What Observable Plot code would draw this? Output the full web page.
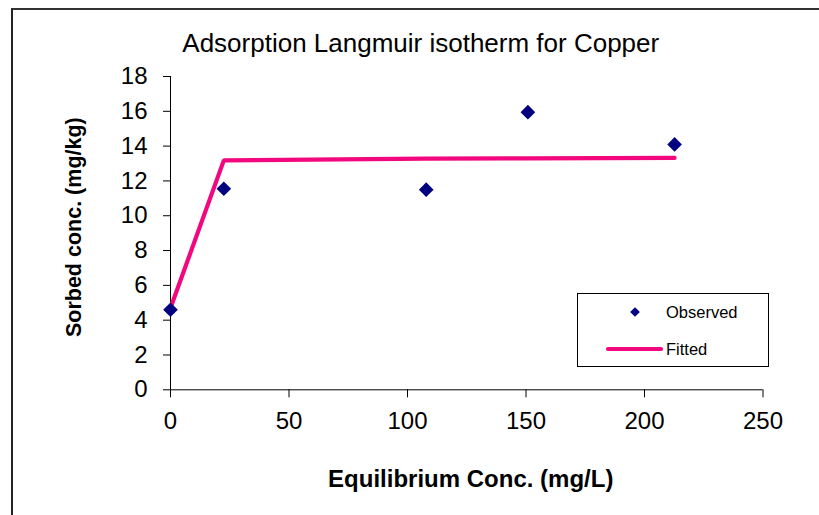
<!DOCTYPE html>
<html>
<head>
<meta charset="utf-8">
<script src="https://cdn.jsdelivr.net/npm/d3@7"></script>
<script src="https://cdn.jsdelivr.net/npm/@observablehq/plot@0.6"></script>
<style>
  html, body { margin: 0; padding: 0; background: #fff; }
  #wrap { position: relative; width: 819px; height: 515px; overflow: hidden; font-family: "Liberation Sans", Arial, sans-serif; }
  #border { position: absolute; left: 11px; top: 8px; width: 900px; height: 600px; border-left: 2px solid #222; border-top: 2px solid #333; box-sizing: border-box; }
  #chart { position: absolute; left: 0; top: 0; }
  #legend { position: absolute; left: 577px; top: 293px; width: 192px; height: 74px; border: 1px solid #000; box-sizing: border-box; background: #fff; }
</style>
</head>
<body>
<div id="wrap">
  <div id="border"></div>
  <div id="chart"></div>
  <div id="legend"></div>
</div>
<script>
// ---- data ----
const title = "Adsorption Langmuir isotherm for Copper";
const xLabel = "Equilibrium Conc. (mg/L)";
const yLabel = "Sorbed conc. (mg/kg)";
const seriesNames = ["Observed", "Fitted"];
const eqConc = [0, 22.5, 107.9, 150.8, 212.7];
const observed = [4.6, 11.55, 11.5, 15.95, 14.1];
const fitted = [4.7, 13.18, 13.28, 13.3, 13.32];
const xTicks = [0, 50, 100, 150, 200, 250];
const yTicks = [0, 2, 4, 6, 8, 10, 12, 14, 16, 18];

const obsColor = "#000080";
const fitColor = "#f2077f";

const obsData = eqConc.map((x, i) => ({x, y: observed[i]}));
const fitData = eqConc.map((x, i) => ({x, y: fitted[i]}));

const font = "'Liberation Sans', Arial, sans-serif";

const plot = Plot.plot({
  width: 819,
  height: 515,
  marginLeft: 170,
  marginRight: 56.5,
  marginTop: 76,
  marginBottom: 125.7,
  style: {fontFamily: font, color: "#000", background: "transparent", overflow: "visible"},
  x: {domain: [0, 250]},
  y: {domain: [0, 18]},
  marks: [
    Plot.axisX({ticks: xTicks, tickSize: 8, tickPadding: 14, fontSize: 24, label: null, stroke: "#000", strokeOpacity: 1, tickFormat: d => String(d)}),
    Plot.axisY({ticks: yTicks, tickSize: 7, tickPadding: 16, fontSize: 24, label: null, stroke: "#000", strokeOpacity: 1, tickFormat: d => String(d)}),
    Plot.ruleY([0], {stroke: "#000", strokeWidth: 1}),
    Plot.ruleX([0], {stroke: "#000", strokeWidth: 1}),
    Plot.line(fitData, {x: "x", y: "y", stroke: fitColor, strokeWidth: 4.2, strokeLinecap: "round", strokeLinejoin: "miter"}),
    Plot.dot(obsData, {x: "x", y: "y", symbol: "diamond2", r: 6.6, fill: obsColor, stroke: null}),
    Plot.text([title], {frameAnchor: "top", dx: -46, dy: -32.5, lineAnchor: "middle", fontSize: 26, fill: "#000"}),
    Plot.text([xLabel], {frameAnchor: "bottom", dx: 4, dy: 90, lineAnchor: "middle", fontSize: 24, fontWeight: "bold", fill: "#000"}),
    Plot.text([yLabel], {frameAnchor: "left", textAnchor: "middle", dx: -96, dy: -6, rotate: -90, lineAnchor: "middle", fontSize: 21.5, fontWeight: "bold", fill: "#000"})
  ]
});
document.getElementById("chart").appendChild(plot);

// legend
const lg = d3.select("#legend").append("svg").attr("width", 190).attr("height", 72)
  .style("font-family", font).style("font-size", "16.5px");
lg.append("path").attr("d", d3.symbol(d3.symbolDiamond2, 60)()).attr("transform", "translate(57,18)").attr("fill", obsColor);
lg.append("text").attr("x", 88).attr("y", 23.5).text(seriesNames[0]);
lg.append("line").attr("x1", 30).attr("x2", 83).attr("y1", 55).attr("y2", 55)
  .attr("stroke", fitColor).attr("stroke-width", 4.2).attr("stroke-linecap", "round");
lg.append("text").attr("x", 88).attr("y", 61).text(seriesNames[1]);
</script>
</body>
</html>
